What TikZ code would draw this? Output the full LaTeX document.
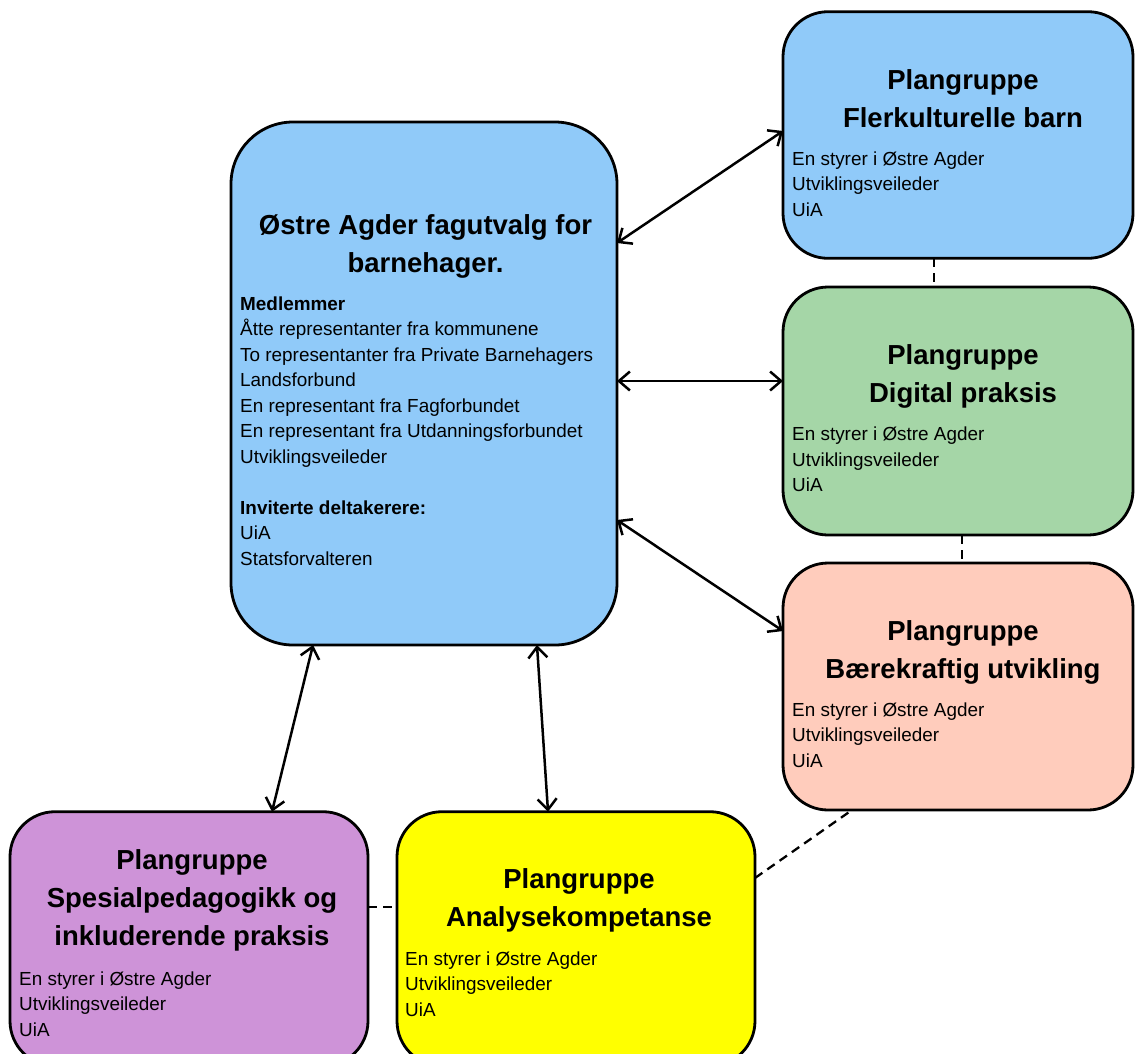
\documentclass[tikz,border=0pt]{standalone}
\usepackage{fontspec}
\setmainfont{Liberation Sans}
\usetikzlibrary{arrows.meta}
\definecolor{cblue}{HTML}{90CAF9}
\definecolor{cgreen}{HTML}{A5D6A7}
\definecolor{csalmon}{HTML}{FFCCBC}
\definecolor{cpurple}{HTML}{CE93D8}
\definecolor{cyellow}{HTML}{FFFF00}
\tikzset{
  box/.style={draw=black, line width=2.8pt, rounded corners=45pt, inner sep=0pt, outer sep=0pt},
  ttl/.style={font=\bfseries\fontsize{27.5}{38}\selectfont, align=center, anchor=base, inner sep=0pt},
  bdy/.style={font=\fontsize{18.9}{25.5}\selectfont, align=left, anchor=base west, inner sep=0pt},
  arr/.style={line width=2.5pt, {Straight Barb[length=11pt,width=19pt]}-{Straight Barb[length=11pt,width=19pt]}},
  dsh/.style={line width=2.3pt, dash pattern=on 9pt off 6pt}
}
\begin{document}
\begin{tikzpicture}[x=1pt,y=-1pt]
\useasboundingbox (0,0) rectangle (1135,1053);
% boxes
\node[box, fill=cblue, rounded corners=62pt, minimum width=386pt, minimum height=523pt] (main) at (424,383.5) {};
\node[box, fill=cblue, minimum width=350pt, minimum height=246.6pt] (fler) at (958,135) {};
\node[box, fill=cgreen, minimum width=350pt, minimum height=248pt] (dig) at (958,411) {};
\node[box, fill=csalmon, minimum width=350pt, minimum height=247pt] (bare) at (958,686.5) {};
\node[box, fill=cpurple, minimum width=358pt, minimum height=254.3pt] (spes) at (189,938.85) {};
\node[box, fill=cyellow, minimum width=358pt, minimum height=254.3pt] (ana) at (576,938.85) {};
% main texts (anchor = baseline of last line)
\node[ttl] (mainT) at (425.5,272) {Østre Agder fagutvalg for\\barnehager.};
\node[bdy] (mainB) at (240,565) {\textbf{Medlemmer}\\Åtte representanter fra kommunene\\To representanter fra Private Barnehagers\\Landsforbund\\En representant fra Fagforbundet\\En representant fra Utdanningsforbundet\\Utviklingsveileder\\[25.5pt]\textbf{Inviterte deltakerere:}\\UiA\\Statsforvalteren};
% right boxes
\node[ttl] (flerT) at (963,127.3) {Plangruppe\\Flerkulturelle barn};
\node[bdy] (flerB) at (792,216) {En styrer i Østre Agder\\Utviklingsveileder\\UiA};
\node[ttl] (digT) at (963,402.6) {Plangruppe\\Digital praksis};
\node[bdy] (digB) at (792,491.5) {En styrer i Østre Agder\\Utviklingsveileder\\UiA};
\node[ttl] (bareT) at (963,678.3) {Plangruppe\\Bærekraftig utvikling};
\node[bdy] (bareB) at (792,767.3) {En styrer i Østre Agder\\Utviklingsveileder\\UiA};
% bottom boxes
\node[ttl] (spesT) at (192,945) {Plangruppe\\Spesialpedagogikk og\\inkluderende praksis};
\node[bdy] (spesB) at (19,1036) {En styrer i Østre Agder\\Utviklingsveileder\\UiA};
\node[ttl] (anaT) at (579,926.5) {Plangruppe\\Analysekompetanse};
\node[bdy] (anaB) at (405,1016) {En styrer i Østre Agder\\Utviklingsveileder\\UiA};
% arrows
\draw[arr] ([yshift=140.5pt]main.east) -- ([yshift=4pt]fler.west);
\draw[arr] ([yshift=2.5pt]main.east) -- ([yshift=30pt]dig.west);
\draw[arr] ([yshift=-136.5pt]main.east) -- ([yshift=55.5pt]bare.west);
\draw[arr] ([xshift=-111pt]main.south) -- ([xshift=83pt]spes.north);
\draw[arr] ([xshift=113pt]main.south) -- ([xshift=-28pt]ana.north);
% dashed links
\draw[dsh] ([xshift=-24pt]fler.south) -- ([xshift=-24pt]dig.north);
\draw[dsh] ([xshift=4pt]dig.south) -- ([xshift=4pt]bare.north);
\draw[dsh] ([yshift=31.85pt]spes.east) -- ([yshift=31.85pt]ana.west);
\draw[dsh] ([yshift=60.85pt]ana.east) -- ([xshift=-106pt]bare.south);
\end{tikzpicture}
\end{document}
